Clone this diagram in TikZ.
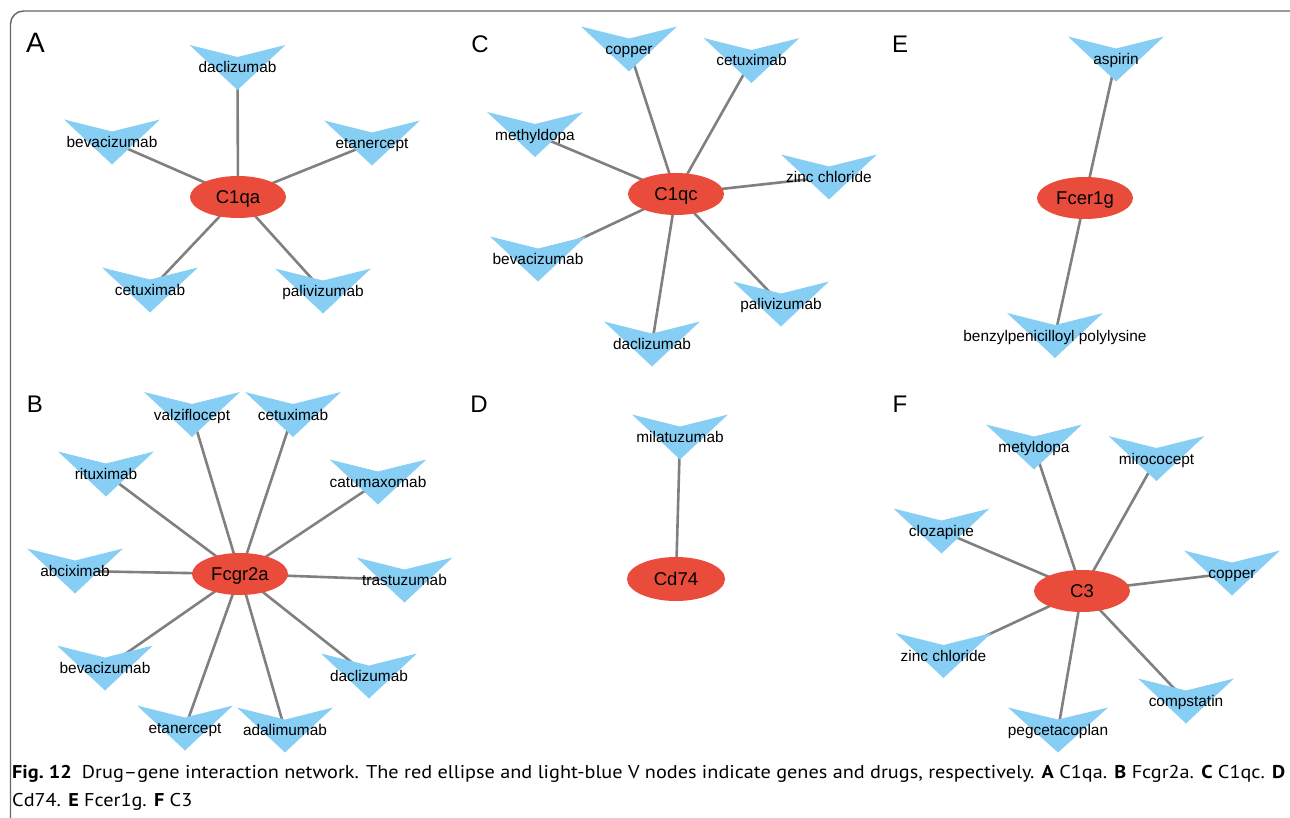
\documentclass[tikz,border=0pt]{standalone}
\usepackage{fontspec}
\setmainfont{Liberation Sans}
\newfontfamily\capfont{PT Sans}
\usetikzlibrary{shapes.geometric}
\pgfdeclarelayer{bg}
\pgfsetlayers{bg,main}
\definecolor{vblue}{RGB}{135,206,245}
\definecolor{gred}{RGB}{234,76,60}
\definecolor{edgegray}{RGB}{128,128,128}
\definecolor{framegray}{RGB}{100,100,100}
\definecolor{captext}{RGB}{30,27,28}
\newsavebox\capboxA
\newsavebox\capboxB
\newlength\capw
\tikzset{
  drug/.style={shape=rectangle, minimum width=96bp, minimum height=45bp, inner sep=0pt,
    text height=11bp, text depth=0pt,
    font=\fontsize{15.4bp}{17bp}\selectfont, text=black,
    path picture={\fill[vblue] (path picture bounding box.north west)
       -- ([yshift=-12bp]path picture bounding box.north)
       -- (path picture bounding box.north east)
       -- (path picture bounding box.south) -- cycle;}},
  gene/.style={ellipse, fill=gred, minimum width=96bp, minimum height=42bp, inner sep=0pt,
    text height=13bp, text depth=0pt,
    font=\fontsize{18.5bp}{20bp}\selectfont, text=black},
  edge/.style={draw=edgegray, line width=2.6bp},
  panel/.style={font=\fontsize{24bp}{26bp}\selectfont, text=black, inner sep=0pt},
  capline/.style={anchor=base west, inner sep=0pt, text=captext}
}
\begin{document}
\sbox\capboxA{\capfont\fontsize{18.5bp}{20bp}\selectfont{\bfseries Fig.~12}\hspace{0.5em}Drug–gene interaction network. The red ellipse and light-blue V nodes indicate genes and drugs, respectively. {\bfseries A} C1qa. {\bfseries B} Fcgr2a. {\bfseries C} C1qc. {\bfseries D}}%
\sbox\capboxB{\capfont\fontsize{18.5bp}{20bp}\selectfont Cd74. {\bfseries E} Fcer1g. {\bfseries F} C3}%
\setlength\capw{\wd\capboxA}%
\pgfmathsetmacro\capsx{1277.8/(\capw/1pt)}%
\begin{tikzpicture}[x=1bp, y=-1bp]
\useasboundingbox (0,0) rectangle (1290,818);
\draw[framegray, line width=1.4bp, rounded corners=13bp] (10.5,11) rectangle (1310,840);

% panel letters
\node[panel, font=\fontsize{28bp}{30bp}\selectfont] (LA) at (35.5,42.5) {A};
\node[panel] (LB) at (35,404) {B};
\node[panel] (LC) at (480,44) {C};
\node[panel] (LD) at (479,404) {D};
\node[panel] (LE) at (900,44) {E};
\node[panel] (LF) at (900,404) {F};

% Panel A
\node[gene] (C1qa) at (238,197) {C1qa};
\node[drug] (a1) at (237.5,67.5) {daclizumab};
\node[drug] (a2) at (112,142) {bevacizumab};
\node[drug] (a3) at (372,143) {etanercept};
\node[drug] (a4) at (150,290) {cetuximab};
\node[drug] (a5) at (323,291) {palivizumab};

% Panel C
\node[gene] (C1qc) at (676,194) {C1qc};
\node[drug] (c1) at (629,49) {copper};
\node[drug] (c2) at (751.5,60.5) {cetuximab};
\node[drug] (c3) at (535,134.5) {methyldopa};
\node[drug] (c4) at (829,177) {zinc chloride};
\node[drug] (c5) at (538,259) {bevacizumab};
\node[drug] (c6) at (781,304) {palivizumab};
\node[drug] (c7) at (652,344) {daclizumab};

% Panel E
\node[gene] (Fcer1g) at (1085,198) {Fcer1g};
\node[drug] (e1) at (1116,59) {aspirin};
\node[drug] (e2) at (1055,335.5) {\makebox[0pt]{benzylpenicilloyl polylysine}};

% Panel B
\node[gene] (Fcgr2a) at (240,574) {Fcgr2a};
\node[drug] (b1) at (192,414.5) {valziflocept};
\node[drug] (b2) at (293,414.5) {cetuximab};
\node[drug] (b3) at (106,474) {rituximab};
\node[drug] (b4) at (378,482) {catumaxomab};
\node[drug] (b5) at (75,571) {abciximab};
\node[drug] (b6) at (404.5,580) {trastuzumab};
\node[drug] (b7) at (105,668) {bevacizumab};
\node[drug] (b8) at (369,676) {daclizumab};
\node[drug] (b9) at (185,728) {etanercept};
\node[drug] (b10) at (285,730) {adalimumab};

% Panel D
\node[gene, minimum width=98bp, minimum height=44bp] (Cd74) at (676,579) {Cd74};
\node[drug] (d1) at (680,437) {milatuzumab};

% Panel F
\node[gene] (C3) at (1082,591) {C3};
\node[drug] (f1) at (1034,447) {metyldopa};
\node[drug] (f2) at (1156.5,458.5) {mirococept};
\node[drug] (f3) at (941.5,531) {clozapine};
\node[drug] (f4) at (1232,573) {copper};
\node[drug] (f5) at (943.5,655.5) {zinc chloride};
\node[drug] (f6) at (1186,701) {compstatin};
\node[drug] (f7) at (1058,730) {pegcetacoplan};

\begin{pgfonlayer}{bg}
\foreach \d in {a1,a2,a3,a4,a5} \draw[edge] (C1qa.center) -- (\d.center);
\foreach \d in {c1,c2,c3,c4,c5,c6,c7} \draw[edge] (C1qc.center) -- (\d.center);
\foreach \d in {e1,e2} \draw[edge] (Fcer1g.center) -- (\d.center);
\foreach \d in {b1,b2,b3,b4,b5,b6,b7,b8,b9,b10} \draw[edge] (Fcgr2a.center) -- (\d.center);
\draw[edge] (Cd74.center) -- (d1.center);
\foreach \d in {f1,f2,f3,f4,f5,f6,f7} \draw[edge] (C3.center) -- (\d.center);
\end{pgfonlayer}

% caption
\node[capline] (cap1) at (12,778) {\scalebox{\capsx}[1]{\usebox\capboxA}};
\node[capline] (cap2) at (12,806) {\scalebox{\capsx}[1]{\usebox\capboxB}};
\end{tikzpicture}
\end{document}
